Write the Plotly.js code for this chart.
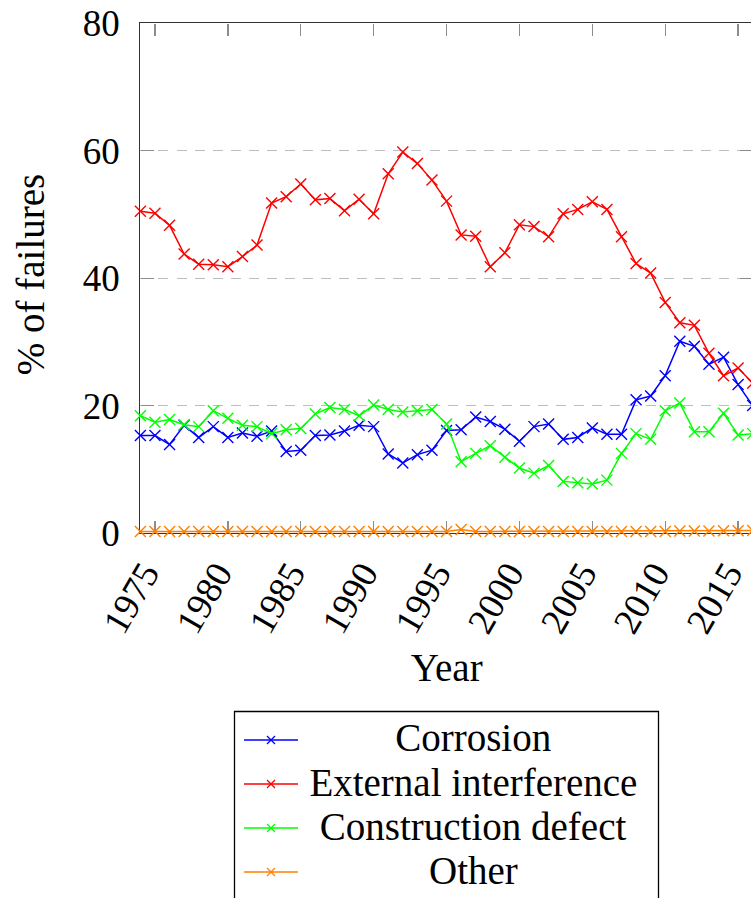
<!DOCTYPE html>
<html>
<head>
<meta charset="utf-8">
<script src="https://cdn.plot.ly/plotly-3.0.1.min.js"></script>
<style>
  html, body { margin: 0; padding: 0; background: #fff; overflow: hidden; }
  #chart { position: absolute; left: 0; top: 0; transform-origin: 0 0; }
</style>
</head>
<body>
<div id="chart"></div>
<script>
// Share of pipeline failures by cause, per year
const years = [1974,1975,1976,1977,1978,1979,1980,1981,1982,1983,1984,1985,1986,1987,1988,
  1989,1990,1991,1992,1993,1994,1995,1996,1997,1998,1999,2000,2001,2002,2003,2004,2005,
  2006,2007,2008,2009,2010,2011,2012,2013,2014,2015,2016];

const corrosion = [15.3,15.3,13.9,16.9,15.0,16.7,15.0,15.7,15.2,16.0,12.8,13.0,15.3,15.4,16.0,
  16.9,16.7,12.4,11.0,12.3,13.0,16.1,16.2,18.2,17.5,16.3,14.4,16.7,17.1,14.7,15.0,16.5,
  15.5,15.5,20.9,21.5,24.7,30.1,29.3,26.5,27.6,23.3,20.0];

const externalInterference = [50.5,50.2,48.3,43.8,42.2,42.1,41.8,43.4,45.2,51.8,52.8,54.8,52.3,
  52.5,50.6,52.4,50.1,56.4,59.8,58.0,55.4,52.1,46.8,46.6,41.8,44.0,48.4,48.1,46.5,50.1,
  50.8,52.0,50.8,46.5,42.3,40.8,36.2,33.0,32.6,28.2,24.7,25.9,23.5];

const constructionDefect = [18.4,17.4,17.8,17.0,16.7,19.2,18.0,16.9,16.7,15.6,16.2,16.4,18.7,
  19.7,19.4,18.4,20.1,19.4,19.0,19.2,19.4,17.1,11.2,12.5,13.7,11.9,10.2,9.4,10.6,8.1,
  7.9,7.7,8.3,12.5,15.6,14.7,19.2,20.4,15.9,15.9,18.8,15.4,15.6];

const other = [0.25,0.25,0.25,0.25,0.25,0.25,0.25,0.25,0.25,0.25,0.25,0.25,0.25,0.25,0.25,
  0.25,0.25,0.25,0.25,0.25,0.25,0.25,0.55,0.25,0.25,0.25,0.25,0.25,0.25,0.25,0.25,0.25,
  0.25,0.25,0.25,0.25,0.25,0.3,0.3,0.3,0.35,0.35,0.4];

const seriesNames = ['Corrosion','External interference','Construction defect','Other'];
const seriesColors = ['#0000ff','#ff0000','#00ff00','#ff8000'];
const seriesValues = [corrosion, externalInterference, constructionDefect, other];

const xTickVals = [1975,1980,1985,1990,1995,2000,2005,2010,2015];
const yTickVals = [0,20,40,60,80];

// The figure is laid out at 1/S size and enlarged with a CSS transform
const S = 1.3;
const FIG_W = 615, FIG_H = 691;
const M = {l: 108, r: 36, t: 18, b: 281};
const plotW = FIG_W - M.l - M.r, plotH = FIG_H - M.t - M.b;
// screen pixel -> paper fraction
const px = x => (x / S - M.l) / plotW;
const py = y => (FIG_H - M.b - y / S) / plotH;
const u = v => v / S;   // screen size -> layout size

const SERIF = 'Liberation Serif';
const TICK_FONT = {family: SERIF, size: u(37), color: '#000'};
const WORD_FONT = {family: SERIF, size: u(39), color: '#000'};

const chartDiv = document.getElementById('chart');
chartDiv.style.width = FIG_W + 'px';
chartDiv.style.height = FIG_H + 'px';
chartDiv.style.transform = 'scale(' + S + ')';

const traces = seriesValues.map((vals, i) => ({
  type: 'scatter', mode: 'lines+markers',
  x: years, y: vals, name: seriesNames[i],
  line: {color: seriesColors[i], width: u(1.5)},
  marker: {symbol: 'x-thin', size: u(11), color: seriesColors[i],
           line: {color: seriesColors[i], width: u(1.4)}},
  cliponaxis: false, showlegend: false
}));

// Boxed legend with centred labels below the axis
const shapes = [];
const annotations = [];
shapes.push({type: 'rect', xref: 'paper', yref: 'paper',
  x0: px(234.5), x1: px(658.5), y0: py(711.5), y1: py(920),
  line: {color: '#000', width: u(1.3)}, fillcolor: 'rgba(0,0,0,0)'});
const rowY = [740, 784, 828, 872];
seriesNames.forEach((name, i) => {
  const y = rowY[i], c = seriesColors[i];
  shapes.push({type: 'line', xref: 'paper', yref: 'paper',
    x0: px(244), x1: px(298), y0: py(y), y1: py(y), line: {color: c, width: u(1.5)}});
  shapes.push({type: 'line', xref: 'paper', yref: 'paper',
    x0: px(267), x1: px(275), y0: py(y - 4), y1: py(y + 4), line: {color: c, width: u(1.3)}});
  shapes.push({type: 'line', xref: 'paper', yref: 'paper',
    x0: px(267), x1: px(275), y0: py(y + 4), y1: py(y - 4), line: {color: c, width: u(1.3)}});
  annotations.push({xref: 'paper', yref: 'paper', x: px(473), y: py(y - 2),
    xanchor: 'center', yanchor: 'middle', showarrow: false, text: name, font: WORD_FONT});
});

// Axis titles
annotations.push({xref: 'paper', yref: 'paper', x: px(446), y: py(667),
  xanchor: 'center', yanchor: 'middle', showarrow: false, text: 'Year', font: WORD_FONT});
annotations.push({xref: 'paper', yref: 'paper', x: px(31), y: py(274),
  xanchor: 'center', yanchor: 'middle', showarrow: false, text: '% of failures',
  textangle: -90, font: WORD_FONT});

const layout = {
  width: FIG_W, height: FIG_H,
  margin: M,
  paper_bgcolor: '#fff', plot_bgcolor: '#fff',
  showlegend: false,
  xaxis: {
    range: [1974, 2016], tickvals: xTickVals, ticktext: xTickVals.map(String),
    tickangle: -60, ticks: 'inside', ticklen: u(12), tickwidth: u(1), tickcolor: '#8c8c8c',
    showline: true, linecolor: '#333', linewidth: u(1.6), mirror: 'ticks',
    showgrid: false, zeroline: false, layer: 'below traces',
    tickfont: TICK_FONT, ticklabelstandoff: 2, ticklabelshift: -8
  },
  yaxis: {
    range: [0, 80], tickvals: yTickVals, ticktext: yTickVals.map(String),
    ticks: 'inside', ticklen: u(13), tickwidth: u(1), tickcolor: '#8c8c8c',
    showline: true, linecolor: '#333', linewidth: u(1.6), mirror: 'ticks',
    showgrid: true, gridcolor: '#bdbdbd', gridwidth: u(1), griddash: '7.7px,6.2px',
    zeroline: false, layer: 'below traces',
    tickfont: TICK_FONT, ticklabelstandoff: 9
  },
  shapes: shapes,
  annotations: annotations
};

Plotly.newPlot(chartDiv, traces, layout, {displayModeBar: false});
</script>
</body>
</html>
